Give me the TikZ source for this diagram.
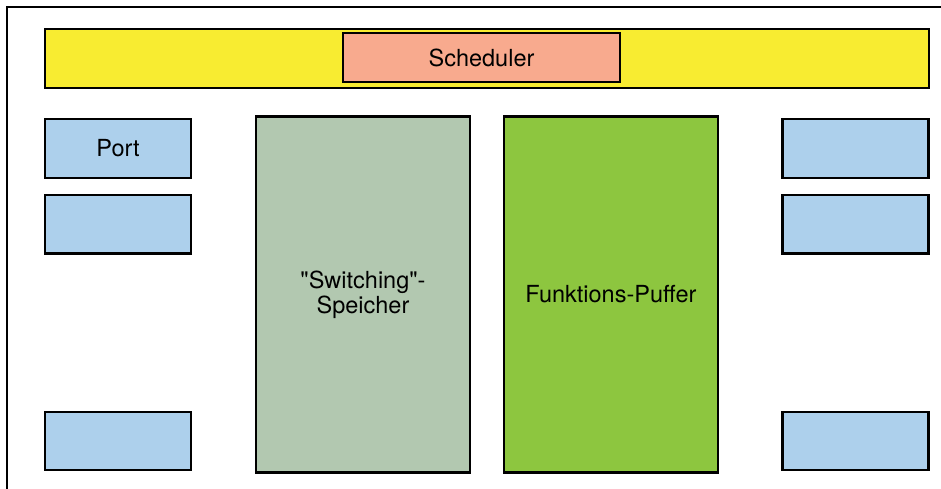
\documentclass[tikz,border=0pt]{standalone}
\usepackage{fontspec}
\setmainfont{TeX Gyre Heros}
\usepackage{tikz}
\usetikzlibrary{positioning}
\tikzset{
  block/.style = {draw=black, line width=2.2pt, fill=#1, inner sep=0pt, align=center, font=\fontsize{23.5}{25}\selectfont},
  port/.style = {block=xport, minimum width=146pt, minimum height=58.5pt},
  memory/.style = {block=#1, minimum width=214pt, minimum height=356pt},
}
\definecolor{xyellow}{HTML}{F8EC31}
\definecolor{xsalmon}{HTML}{F8AA8E}
\definecolor{xport}{HTML}{ADD0EC}
\definecolor{xsage}{HTML}{B2C8B0}
\definecolor{xgreen}{HTML}{8DC63F}

\begin{document}
\begin{tikzpicture}[x=1pt, y=-1pt]
      \useasboundingbox (0,0) rectangle (941,489);
      \draw[line width=2.2pt] (7.3,495) -- (7.3,6.8) -- (950,6.8);

      \node[block=xyellow, minimum width=884pt, minimum height=59pt] (bar) at (487,58.2) {};
      \node[block=xsalmon, minimum width=277pt, minimum height=49pt] (sched) at (481.5,57.5) {Scheduler};

      % ports left and right
      \node[port] (pl1) at (118,148.5) {Port};
      \node[port, below=15pt of pl1] (pl2) {};
      \node[port] (pl3) at (118,441) {};
      \node[port] (pr1) at (855.5,148.5) {};
      \node[port, below=15pt of pr1] (pr2) {};
      \node[port] (pr3) at (855.5,441) {};

      \node[memory=xsage] (mem) at (363,294.5) {\textquotedbl Switching\textquotedbl -\\Speicher};
      \node[memory=xgreen] (buf) at (611,294.5) {Funktions-Puffer};
    \end{tikzpicture}
\end{document}
